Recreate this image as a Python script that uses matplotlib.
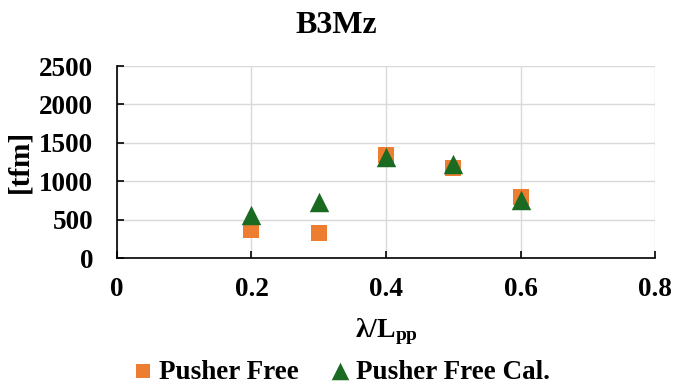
import matplotlib
matplotlib.use("Agg")
import matplotlib.pyplot as plt

wave_ratio = [0.2, 0.3, 0.4, 0.5, 0.6]
pusher_free = [370, 320, 1340, 1170, 790]
pusher_free_cal = [560, 730, 1320, 1230, 750]
x_ticks = [0, 0.2, 0.4, 0.6, 0.8]
x_tick_labels = ["0", "0.2", "0.4", "0.6", "0.8"]
y_ticks = [0, 500, 1000, 1500, 2000, 2500]

plt.rcParams['font.family'] = ['Liberation Serif', 'DejaVu Serif']
plt.rcParams['font.weight'] = 'bold'
plt.rcParams['mathtext.default'] = 'regular'

fig = plt.figure(figsize=(6.73, 3.86), dpi=100)
ax = fig.add_axes([0.1738, 0.3316, 0.7995, 0.4974])

ax.scatter(wave_ratio, pusher_free, marker='s', s=11**2, color='#ED7D31',
           label='Pusher Free', zorder=3, linewidths=0)
ax.scatter(wave_ratio, pusher_free_cal, marker='^', s=14**2, color='#1B6A22',
           label='Pusher Free Cal.', zorder=4, linewidths=0)

ax.set_xlim(0, 0.8)
ax.set_ylim(0, 2500)
ax.set_xticks(x_ticks)
ax.set_xticklabels(x_tick_labels)
ax.set_yticks(y_ticks)
ax.grid(True, color='#D9D9D9', linewidth=1.0, zorder=0)
ax.set_axisbelow(True)
for s in ['top', 'right']:
    ax.spines[s].set_visible(False)
for s in ['left', 'bottom']:
    ax.spines[s].set_color('black')
    ax.spines[s].set_linewidth(1.2)
ax.tick_params(axis='both', direction='in', length=5, width=1.2, labelsize=19.5)
ax.tick_params(axis='y', pad=17)
ax.tick_params(axis='x', pad=14)
for lab in ax.get_xticklabels() + ax.get_yticklabels():
    lab.set_fontweight('bold')

ax.set_xlabel(r'λ/L$_{\mathregular{pp}}$', fontsize=20, fontweight='bold', labelpad=10)
fig.text(0.03, 0.5806, '[tfm]', rotation=90, fontsize=21, fontweight='bold',
         ha='center', va='center')
fig.text(0.5, 0.935, 'B3Mz', fontsize=23, fontweight='bold', ha='center', va='center')

fig.legend(loc='center', bbox_to_anchor=(0.505, 0.036), ncol=2, frameon=False,
           prop={'size': 19.5, 'weight': 'bold'}, handletextpad=0.1,
           columnspacing=1.0, borderaxespad=0, handlelength=1.0,
           scatterpoints=1, markerscale=0.9)

fig.savefig('out.png', dpi=100)
